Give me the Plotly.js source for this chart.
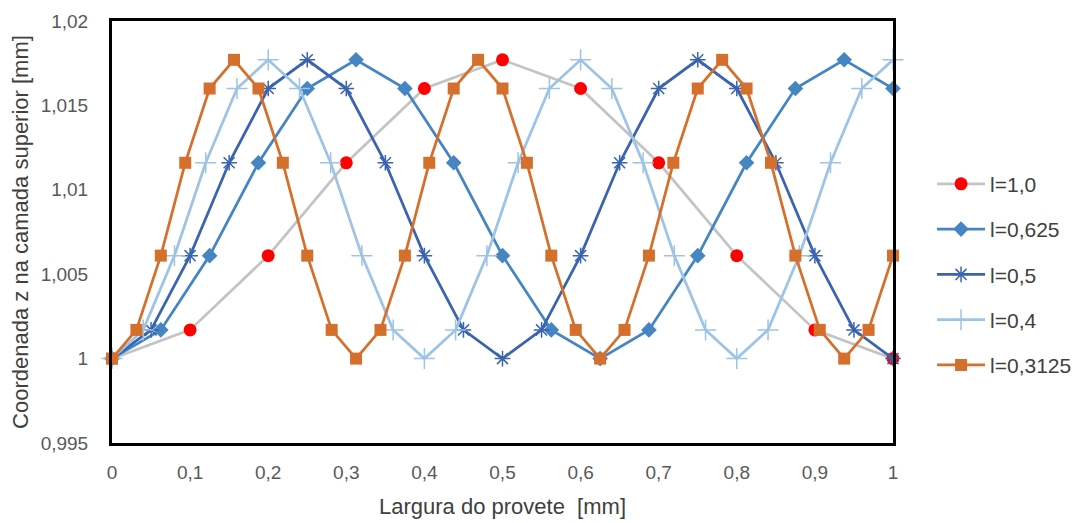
<!DOCTYPE html>
<html>
<head>
<meta charset="utf-8">
<script src="https://cdn.plot.ly/plotly-3.0.1.min.js"></script>
<style>
  html, body { margin: 0; padding: 0; background: #fff; }
  #chart { width: 1083px; height: 523px; }
</style>
</head>
<body>
<div id="chart"></div>
<script>
// Width positions (mm) and top-layer z coordinate (mm) for each wavelength l
const seriesNames = ['l=1,0', 'l=0,625', 'l=0,5', 'l=0,4', 'l=0,3125'];

const x_l100 = [0, 0.1, 0.2, 0.3, 0.4, 0.5, 0.6, 0.7, 0.8, 0.9, 1];
const z_l100 = [1, 1.0017, 1.0061, 1.0116, 1.016, 1.0177, 1.016, 1.0116, 1.0061, 1.0017, 1];

const x_l0625 = [0, 0.0625, 0.125, 0.1875, 0.25, 0.3125, 0.375, 0.4375, 0.5, 0.5625,
                 0.625, 0.6875, 0.75, 0.8125, 0.875, 0.9375, 1];
const z_l0625 = [1, 1.0017, 1.0061, 1.0116, 1.016, 1.0177, 1.016, 1.0116, 1.0061, 1.0017,
                 1, 1.0017, 1.0061, 1.0116, 1.016, 1.0177, 1.016];

const x_l05 = [0, 0.05, 0.1, 0.15, 0.2, 0.25, 0.3, 0.35, 0.4, 0.45, 0.5,
               0.55, 0.6, 0.65, 0.7, 0.75, 0.8, 0.85, 0.9, 0.95, 1];
const z_l05 = [1, 1.0017, 1.0061, 1.0116, 1.016, 1.0177, 1.016, 1.0116, 1.0061, 1.0017, 1,
               1.0017, 1.0061, 1.0116, 1.016, 1.0177, 1.016, 1.0116, 1.0061, 1.0017, 1];

const x_l04 = [0, 0.04, 0.08, 0.12, 0.16, 0.2, 0.24, 0.28, 0.32, 0.36, 0.4, 0.44, 0.48,
               0.52, 0.56, 0.6, 0.64, 0.68, 0.72, 0.76, 0.8, 0.84, 0.88, 0.92, 0.96, 1];
const z_l04 = [1, 1.0017, 1.0061, 1.0116, 1.016, 1.0177, 1.016, 1.0116, 1.0061, 1.0017,
               1, 1.0017, 1.0061, 1.0116, 1.016, 1.0177, 1.016, 1.0116, 1.0061, 1.0017,
               1, 1.0017, 1.0061, 1.0116, 1.016, 1.0177];

const x_l03125 = [0, 0.03125, 0.0625, 0.09375, 0.125, 0.15625, 0.1875, 0.21875, 0.25, 0.28125,
                  0.3125, 0.34375, 0.375, 0.40625, 0.4375, 0.46875, 0.5, 0.53125, 0.5625, 0.59375,
                  0.625, 0.65625, 0.6875, 0.71875, 0.75, 0.78125, 0.8125, 0.84375, 0.875, 0.90625,
                  0.9375, 0.96875, 1];
const z_l03125 = [1, 1.0017, 1.0061, 1.0116, 1.016, 1.0177, 1.016, 1.0116, 1.0061, 1.0017,
                  1, 1.0017, 1.0061, 1.0116, 1.016, 1.0177, 1.016, 1.0116, 1.0061, 1.0017,
                  1, 1.0017, 1.0061, 1.0116, 1.016, 1.0177, 1.016, 1.0116, 1.0061, 1.0017,
                  1, 1.0017, 1.0061];

const xTicks = [0, 0.1, 0.2, 0.3, 0.4, 0.5, 0.6, 0.7, 0.8, 0.9, 1];
const yTicks = [0.995, 1, 1.005, 1.01, 1.015, 1.02];

const FONT = 'Liberation Sans, Arial, sans-serif';

function series(i, xs, ys, lineColor, marker) {
  return {
    type: 'scatter', mode: 'lines+markers', name: seriesNames[i],
    x: xs, y: ys, legendgroup: 'g' + i,
    line: { color: lineColor, width: 2.75 },
    marker: marker,
    cliponaxis: false
  };
}

const traces = [
  series(0, x_l100, z_l100, '#C4C4C4', { symbol: 'circle', size: 13, color: '#FF0000' }),
  series(1, x_l0625, z_l0625, '#4585C2', { symbol: 'diamond', size: 12, color: '#4585C2' }),
  series(2, x_l05, z_l05, '#3A63B0', { symbol: 'asterisk-open', size: 13, color: '#3A63B0', line: { color: '#3A63B0', width: 1.5 } }),
  series(3, x_l04, z_l04, '#9DC3E6', { symbol: 'cross-thin-open', size: 15, color: '#9DC3E6', line: { color: '#9DC3E6', width: 1.5 } }),
  series(4, x_l03125, z_l03125, '#D4702B', { symbol: 'square', size: 12, color: '#D4702B' })
];

const tickFont = { family: FONT, size: 19, color: '#595959' };
const titleFont = { family: FONT, size: 22, color: '#404040' };

const axisCommon = {
  showgrid: false, zeroline: false, ticks: '',
  showline: true, mirror: true, linecolor: '#000', linewidth: 3,
  tickfont: tickFont
};

const layout = {
  width: 1083, height: 523,
  margin: { l: 112, r: 190, t: 21, b: 80, autoexpand: false },
  paper_bgcolor: '#fff', plot_bgcolor: '#fff',
  separators: ',.',
  font: { family: FONT },
  xaxis: Object.assign({}, axisCommon, {
    range: [0, 1], tickvals: xTicks, ticklabelstandoff: 10,
    title: { text: 'Largura do provete \u00a0[mm]', standoff: 17, font: titleFont }
  }),
  yaxis: Object.assign({}, axisCommon, {
    range: [0.995, 1.02], tickvals: yTicks, ticklabelstandoff: 17,
    title: { text: 'Coordenada z na camada superior [mm]', standoff: 6, font: titleFont }
  }),
  showlegend: true,
  legend: {
    x: 1.05, y: 0.662, xanchor: 'left', yanchor: 'top',
    font: { family: FONT, size: 21, color: '#404040' },
    traceorder: 'grouped', tracegroupgap: 15, itemwidth: 48,
    bgcolor: 'rgba(0,0,0,0)'
  }
};

Plotly.newPlot('chart', traces, layout, { displayModeBar: false, staticPlot: true });
</script>
</body>
</html>
